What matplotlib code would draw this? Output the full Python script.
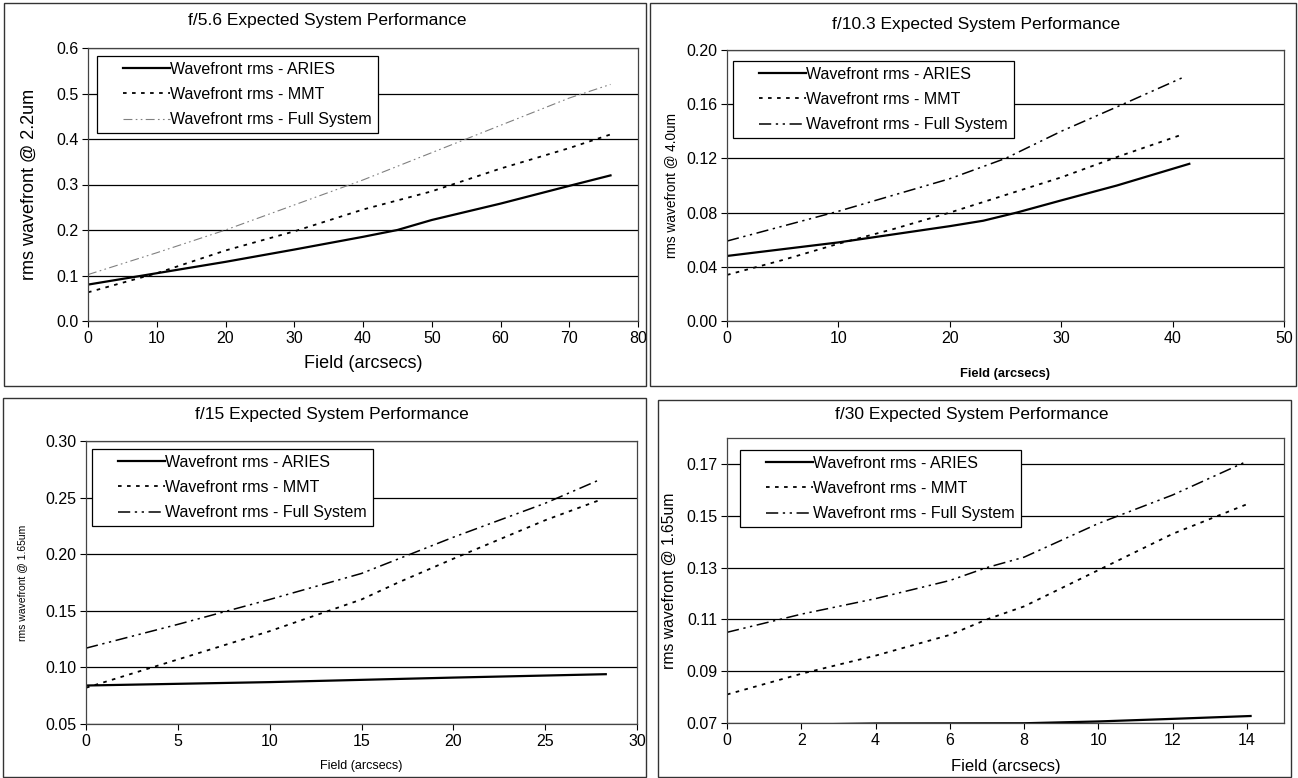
"""Expected system performance of ARIES at four focal ratios (four panels)."""

import matplotlib.pyplot as plt
from matplotlib.legend_handler import HandlerLine2D
from matplotlib.patches import Rectangle

W, H = 1298, 778

plt.rcParams["font.family"] = ["Liberation Sans", "DejaVu Sans"]

# f/5.6
f56_x = [0, 10, 20, 30, 40, 45, 50, 60, 70, 76]
f56_aries = [0.080, 0.105, 0.130, 0.157, 0.185, 0.200, 0.222, 0.258, 0.297, 0.320]
f56_mmt_x = [0, 10, 20, 30, 40, 50, 60, 70, 76]
f56_mmt = [0.063, 0.105, 0.155, 0.197, 0.245, 0.285, 0.335, 0.380, 0.410]
f56_full = [0.102, 0.150, 0.200, 0.255, 0.310, 0.370, 0.430, 0.490, 0.520]

# f/10.3
f103_x = [0, 5, 10, 15, 20, 23, 26, 30, 35, 41.5]
f103_aries = [0.048, 0.053, 0.058, 0.064, 0.070, 0.074, 0.080, 0.089, 0.100, 0.116]
f103_mmt_x = [0, 5, 10, 15, 20, 25, 30, 35, 41]
f103_mmt = [0.034, 0.045, 0.057, 0.068, 0.080, 0.093, 0.106, 0.121, 0.138]
f103_full_x = [0, 10, 20, 25, 30, 35, 41]
f103_full = [0.059, 0.081, 0.105, 0.120, 0.140, 0.158, 0.180]

# f/15
f15_x = [0, 10, 20, 28.3]
f15_aries = [0.084, 0.087, 0.091, 0.094]
f15_mmt_x = [0, 5, 10, 15, 17, 20, 25, 28]
f15_mmt = [0.082, 0.107, 0.132, 0.160, 0.175, 0.196, 0.230, 0.248]
f15_full_x = [0, 5, 10, 15, 20, 25, 28]
f15_full = [0.117, 0.138, 0.160, 0.183, 0.215, 0.245, 0.266]

# f/30
f30_x = [0, 4, 8, 10, 12, 14.1]
f30_aries = [0.0690, 0.0698, 0.0699, 0.0706, 0.0716, 0.0727]
f30_mmt_x = [0, 2, 4, 6, 7, 8, 10, 12, 14.1]
f30_mmt = [0.081, 0.089, 0.096, 0.104, 0.110, 0.115, 0.129, 0.143, 0.155]
f30_full_x = [0, 2, 4, 6, 7, 8, 10, 12, 14]
f30_full = [0.105, 0.112, 0.118, 0.125, 0.130, 0.134, 0.147, 0.158, 0.171]

LABELS = ["Wavefront rms - ARIES", "Wavefront rms - MMT", "Wavefront rms - Full System"]
MMT_STYLE = (0, (2.0, 3.0))
FULL_STYLE = (0, (8.0, 3.0, 1.5, 3.0, 1.5, 3.0))
TICK_SIZE = 11.5
TITLE_SIZE = 12.5
LEGEND_SIZE = 11.5


class PaddedLine(HandlerLine2D):
    """Legend line that leaves a gap on its left, like the original legends."""

    def __init__(self, pad, **kw):
        super().__init__(**kw)
        self.pad = pad

    def create_artists(self, legend, orig_handle, xdescent, ydescent, width, height,
                       fontsize, trans):
        return super().create_artists(legend, orig_handle, xdescent - self.pad, ydescent,
                                      width - self.pad, height, fontsize, trans)


def px_axes(fig, left, top, right, bottom):
    return fig.add_axes([left / W, 1 - bottom / H, (right - left) / W, (bottom - top) / H])


def frame(fig, left, top, right, bottom):
    fig.patches.append(Rectangle((left / W, 1 - bottom / H), (right - left) / W,
                                 (bottom - top) / H, transform=fig.transFigure,
                                 fill=False, edgecolor="#333333", linewidth=1.0))


def panel(fig, box, title, title_xy, xlim, xticks, ylim, yticks, yfmt,
          ylabel, ylabel_x, ylabel_size, xlabel_y, xlabel_size, xlabel_bold,
          legend_xy, series, full_color="black", full_lw=1.1):
    ax = px_axes(fig, *box)
    (xa, ya), (xm, ym), (xf, yf) = series
    ax.plot(xa, ya, color="black", linewidth=1.6, label=LABELS[0])
    ax.plot(xm, ym, color="black", linewidth=1.3, linestyle=MMT_STYLE, label=LABELS[1])
    ax.plot(xf, yf, color=full_color, linewidth=full_lw, linestyle=FULL_STYLE,
            label=LABELS[2])

    ax.set_xlim(*xlim)
    ax.set_ylim(*ylim)
    ax.set_xticks(xticks)
    ax.set_yticks(yticks)
    ax.set_yticklabels([yfmt.format(v) for v in yticks])
    ax.tick_params(labelsize=TICK_SIZE, length=4, width=0.8, direction="out", pad=3)
    ax.yaxis.grid(True, color="black", linewidth=0.9)
    ax.set_axisbelow(True)
    for s in ax.spines.values():
        s.set_color("#444444")
        s.set_linewidth(0.9)

    fig.text(title_xy[0] / W, 1 - title_xy[1] / H, title, ha="center", va="center",
             fontsize=TITLE_SIZE)
    cx = (box[0] + box[2]) / 2
    fig.text(cx / W, 1 - xlabel_y / H, "Field (arcsecs)", ha="center", va="center",
             fontsize=xlabel_size, fontweight="bold" if xlabel_bold else "normal")
    cy = (box[1] + box[3]) / 2
    fig.text(ylabel_x / W, 1 - cy / H, ylabel, ha="center", va="center",
             rotation=90, fontsize=ylabel_size)

    fs_px = LEGEND_SIZE * 100 / 72
    pad_px = 15
    handler = PaddedLine(pad_px)
    lines = ax.get_lines()
    leg = ax.legend(handles=lines, loc="upper left",
                    bbox_to_anchor=(legend_xy[0] / W, 1 - legend_xy[1] / H),
                    bbox_transform=fig.transFigure, fontsize=LEGEND_SIZE,
                    handlelength=(52 + pad_px) / fs_px, handletextpad=0.05,
                    labelspacing=0.65, borderpad=0.35,
                    handler_map={l: handler for l in lines},
                    fancybox=False, framealpha=1.0, edgecolor="black",
                    borderaxespad=0)
    leg.get_frame().set_linewidth(0.9)
    return ax


def main():
    fig = plt.figure(figsize=(W / 100, H / 100), dpi=100)

    frame(fig, 4, 3, 646, 386)
    frame(fig, 650, 3, 1296, 386)
    frame(fig, 3, 398, 646, 777)
    frame(fig, 658, 400, 1291, 777)

    panel(fig, (88, 48, 638, 321), "f/5.6 Expected System Performance", (327, 20),
          (0, 80), range(0, 81, 10), (0, 0.6), [0, 0.1, 0.2, 0.3, 0.4, 0.5, 0.6], "{:.1f}",
          "rms wavefront @ 2.2um", 29, 13, 363, 13, False, (97, 56),
          [(f56_x, f56_aries), (f56_mmt_x, f56_mmt), (f56_mmt_x, f56_full)],
          full_color="#808080", full_lw=0.8)

    panel(fig, (727, 50, 1284, 321), "f/10.3 Expected System Performance", (976, 25),
          (0, 50), range(0, 51, 10), (0, 0.2), [0, 0.04, 0.08, 0.12, 0.16, 0.20], "{:.2f}",
          "rms wavefront @ 4.0um", 671, 9.8, 374, 9.3, True, (733, 61),
          [(f103_x, f103_aries), (f103_mmt_x, f103_mmt), (f103_full_x, f103_full)])

    panel(fig, (86, 441, 637, 724), "f/15 Expected System Performance", (332, 414),
          (0, 30), range(0, 31, 5), (0.05, 0.30), [0.05, 0.10, 0.15, 0.20, 0.25, 0.30], "{:.2f}",
          "rms wavefront @ 1.65um", 22, 7.5, 766, 9, False, (92, 449),
          [(f15_x, f15_aries), (f15_mmt_x, f15_mmt), (f15_full_x, f15_full)])

    panel(fig, (727, 438, 1284, 723), "f/30 Expected System Performance", (972, 414),
          (0, 15), range(0, 15, 2), (0.07, 0.18), [0.07, 0.09, 0.11, 0.13, 0.15, 0.17], "{:.2f}",
          "rms wavefront @ 1.65um", 669, 11.3, 766, 12, False, (740, 450),
          [(f30_x, f30_aries), (f30_mmt_x, f30_mmt), (f30_full_x, f30_full)])

    fig.savefig("out.png", dpi=100)
    plt.close(fig)


if __name__ == "__main__":
    main()
